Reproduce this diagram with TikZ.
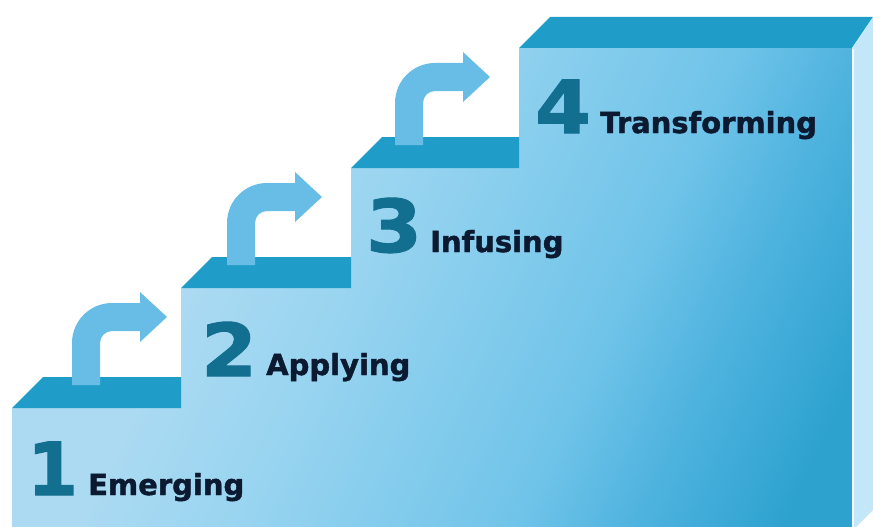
\documentclass[tikz,border=0pt]{standalone}
\usepackage{fontspec}
\usepackage{graphicx}
\setmainfont{DejaVu Sans}
\newfontfamily\heavyfont{DejaVu Sans Bold}[FakeBold=1.5]
\definecolor{topc}{HTML}{1F9DC8}
\definecolor{arrowc}{HTML}{68BDE6}
\definecolor{numc}{HTML}{126F90}
\definecolor{labc}{HTML}{0B1A30}
\definecolor{fA}{HTML}{ABDAF2}
\definecolor{fB}{HTML}{98D4F0}
\definecolor{fC}{HTML}{70C4E9}
\definecolor{fD}{HTML}{4DB2DE}
\definecolor{fE}{HTML}{2DA2CF}
\definecolor{sidec}{HTML}{C3E6F8}
\pgfdeclarehorizontalshading{stairshade}{100bp}{color(0bp)=(fA); color(35bp)=(fA); color(45bp)=(fB); color(62bp)=(fC); color(70bp)=(fD); color(79bp)=(fE); color(100bp)=(fE)}
\begin{document}
\begin{tikzpicture}[x=1pt,y=-1pt,
  topface/.style={fill=topc},
  frontface/.style={shading=stairshade, shading angle=-25},
  sideface/.style={fill=sidec},
  turnarrow/.style={fill=arrowc},
  stepnum/.style={font=\fontsize{73}{73}\heavyfont, text=numc, inner sep=0pt, anchor=base west},
  steplabel/.style={font=\fontsize{29}{29}\heavyfont, text=labc, inner sep=0pt, anchor=base west}]
\useasboundingbox (0,0) rectangle (873,527);
% front face (staircase profile)
\path[frontface] (12,527) -- (12,408) -- (181,408) -- (181,288) -- (351,288) -- (351,168)
  -- (519,168) -- (519,48) -- (852,48) -- (852,527) -- cycle;
% top surfaces
\fill[topface] (12,408) -- (43,377) -- (181,377) -- (181,408) -- cycle;
\fill[topface] (181,288) -- (212,257) -- (351,257) -- (351,288) -- cycle;
\fill[topface] (351,168) -- (382,137) -- (519,137) -- (519,168) -- cycle;
\fill[topface] (519,48) -- (550,17) -- (873,17) -- (852,48) -- cycle;
% side face
\fill[sideface] (852,48) -- (873,17) -- (873,510) -- (856,527) -- (852,527) -- cycle;
\draw[white, line width=1.5pt, opacity=0.8] (853,49) -- (853,527);
% turning arrows
\foreach \xl/\ty/\yb in {72/317/385, 227/197/265, 395/77/145}{
  \fill[turnarrow] (\xl,\yb) -- (\xl,\ty+26)
    .. controls (\xl,\ty+3.9) and (\xl+17.9,\ty-14) .. (\xl+40,\ty-14)
    -- (\xl+68,\ty-14) -- (\xl+68,\ty-25) -- (\xl+95,\ty) -- (\xl+68,\ty+25)
    -- (\xl+68,\ty+14) -- (\xl+40,\ty+14)
    .. controls (\xl+33.4,\ty+14) and (\xl+28,\ty+19.4) .. (\xl+28,\ty+26)
    -- (\xl+28,\yb) -- cycle;
}
% numbers and labels
\node[stepnum] (n1) at (27,495) {1};
\node[steplabel] (l1) at (88,495) {Emerging};
\node[stepnum] (n2) at (201,376) {\scalebox{1.1}[1]{2}};
\node[steplabel] (l2) at (266,375) {Applying};
\node[stepnum] (n3) at (366,252) {\scalebox{1.1}[1]{3}};
\node[steplabel] (l3) at (430,252) {Infusing};
\node[stepnum] (n4) at (535,133) {\scalebox{1.1}[1]{4}};
\node[steplabel] (l4) at (600,133) {Transforming};
\end{tikzpicture}
\end{document}
